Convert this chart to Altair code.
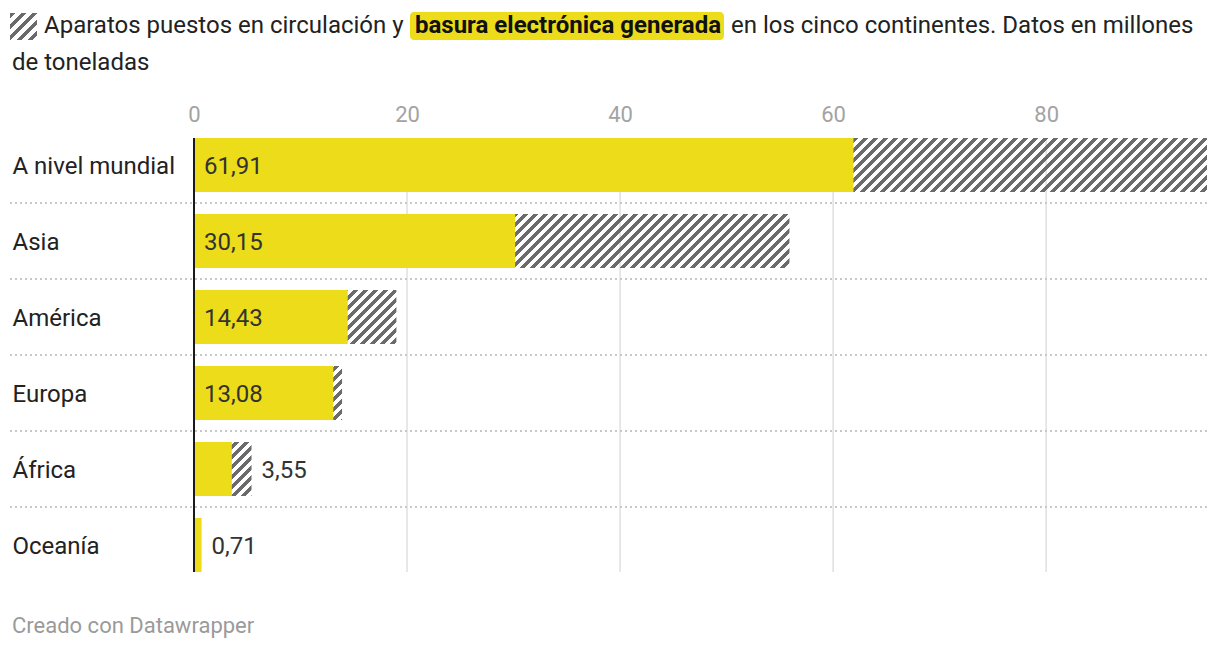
import altair as alt
import pandas as pd

# ---- data ----
regions = ["A nivel mundial", "Asia", "América", "Europa", "África", "Oceanía"]
ewaste = [61.91, 30.15, 14.43, 13.08, 3.55, 0.71]          # basura electrónica generada
put_on_market = [95.1, 55.9, 19.0, 13.9, 5.4, 0.71]        # aparatos puestos en circulación
axis_ticks = [0, 20, 40, 60, 80]
grid_ticks = [20, 40, 60, 80]
x_max = 95.1
inside_threshold = 10  # labels go inside yellow bars when wide enough

YELLOW = "#ecdc1a"
HATCH = "#6b6b6b"
FONT = "Roboto"

W, H = 1013, 456

df = pd.DataFrame({"region": regions, "ewaste": ewaste, "pom": put_on_market})
df["label"] = [f"{v:.2f}".replace(".", ",") for v in ewaste]
df["label_pos"] = [0 if e >= inside_threshold else max(e, p) for e, p in zip(ewaste, put_on_market)]

xscale = alt.Scale(domain=[0, x_max], nice=False, zero=True)
yscale = alt.Scale(domain=regions, paddingInner=0.2895, paddingOuter=0.1447)


def hatch_gradient(w, h, period=10.0, gray_frac=0.5):
    L = w + h
    stops = []
    i = 0
    while True:
        s0 = i * period / L
        if s0 >= 1:
            break
        s1 = min((i * period + gray_frac * period) / L, 1)
        s2 = min((i + 1) * period / L, 1)
        stops += [
            {"offset": s0, "color": HATCH},
            {"offset": s1, "color": HATCH},
            {"offset": s1, "color": "rgba(255,255,255,0)"},
            {"offset": s2, "color": "rgba(255,255,255,0)"},
        ]
        i += 1
    k = L / (w * w + h * h)
    return {"gradient": "linear", "x1": 0, "y1": 0, "x2": w * k, "y2": h * k, "stops": stops}


bar_h = 54
px_per_unit = W / x_max

base = alt.Chart(df)

y_enc = alt.Y("region:N", scale=yscale, sort=regions,
              axis=alt.Axis(title=None, domain=False, ticks=False, labelAlign="left",
                            labelPadding=182, labelFontSize=24, labelColor="#222222",
                            labelFont=FONT, labelBaseline="middle", labelOffset=2))

grid = alt.Chart(pd.DataFrame({"t": grid_ticks})).mark_rule(color="#e0e0e0", strokeWidth=1.5).encode(
    x=alt.X("t:Q", scale=xscale),
    y=alt.value(11), y2=alt.value(445))

seps = alt.Chart(df.iloc[1:]).mark_rule(color="#c8c8c8", strokeWidth=2, strokeDash=[2, 3],
                                       yOffset=-38).encode(
    y=alt.Y("region:N", scale=yscale, sort=regions),
    x=alt.value(-184), x2=alt.value(W))

hatch_layers = []
for r, p, e in zip(regions, put_on_market, ewaste):
    if p <= e:
        continue  # nothing of the hatched bar would show beyond the yellow one
    w = p * px_per_unit
    hatch_layers.append(
        base.transform_filter(alt.datum.region == r).mark_bar(
            fill=hatch_gradient(w, bar_h), stroke=None, cornerRadius=0).encode(
            x=alt.X("pom:Q", scale=xscale,
                    axis=alt.Axis(orient="top", values=axis_ticks, title=None, domain=False,
                                  ticks=False, grid=False, labelFontSize=22, labelColor="#a3a3a3",
                                  labelFont=FONT, labelPadding=1, labelFlush=False)),
            y=y_enc)
    )

yellow = base.mark_bar(fill=YELLOW).encode(
    x=alt.X("ewaste:Q", scale=xscale), y=y_enc)

zero = alt.Chart(pd.DataFrame({"z": [0]})).mark_rule(color="#1a1a1a", strokeWidth=2).encode(
    x=alt.X("z:Q", scale=xscale), y=alt.value(11), y2=alt.value(445))

labels = base.mark_text(align="left", baseline="middle", dx=10, dy=2, fontSize=24,
                        color="#333333", font=FONT).encode(
    x=alt.X("label_pos:Q", scale=xscale), y=y_enc, text="label:N")

one = pd.DataFrame({"a": [0]})


def txt(s, x, y, size=24, color="#222222", weight="normal"):
    return alt.Chart(one).mark_text(align="left", baseline="alphabetic", fontSize=size,
                                    font=FONT, color=color, fontWeight=weight).encode(
        x=alt.value(x), y=alt.value(y), text=alt.value(s))


icon = alt.Chart(one).mark_rect(fill=hatch_gradient(27, 27, period=11.0)).encode(
    x=alt.value(-184), x2=alt.value(-157), y=alt.value(-114), y2=alt.value(-87))
highlight = alt.Chart(one).mark_rect(fill=YELLOW, cornerRadius=4).encode(
    x=alt.value(216), x2=alt.value(530), y=alt.value(-115), y2=alt.value(-87))

title_layers = [
    icon,
    txt("Aparatos puestos en circulación y", -150, -94),
    highlight,
    txt("basura electrónica generada", 221, -94, color="#111111", weight="bold"),
    txt("en los cinco continentes. Datos en millones", 537, -94),
    txt("de toneladas", -182, -57),
    txt("Creado con Datawrapper", -182, 506, size=22, color="#9a9a9a"),
]

chart = alt.layer(grid, seps, *hatch_layers, yellow, zero, labels, *title_layers).properties(
    width=W, height=H,
    padding={"left": 186, "top": 119, "right": 5, "bottom": 55},
    autosize=alt.AutoSizeParams(type="none"),
).configure(font=FONT).configure_view(stroke=None, strokeWidth=0)

chart.save("out.html", embed_options={"renderer": "svg", "actions": False})
